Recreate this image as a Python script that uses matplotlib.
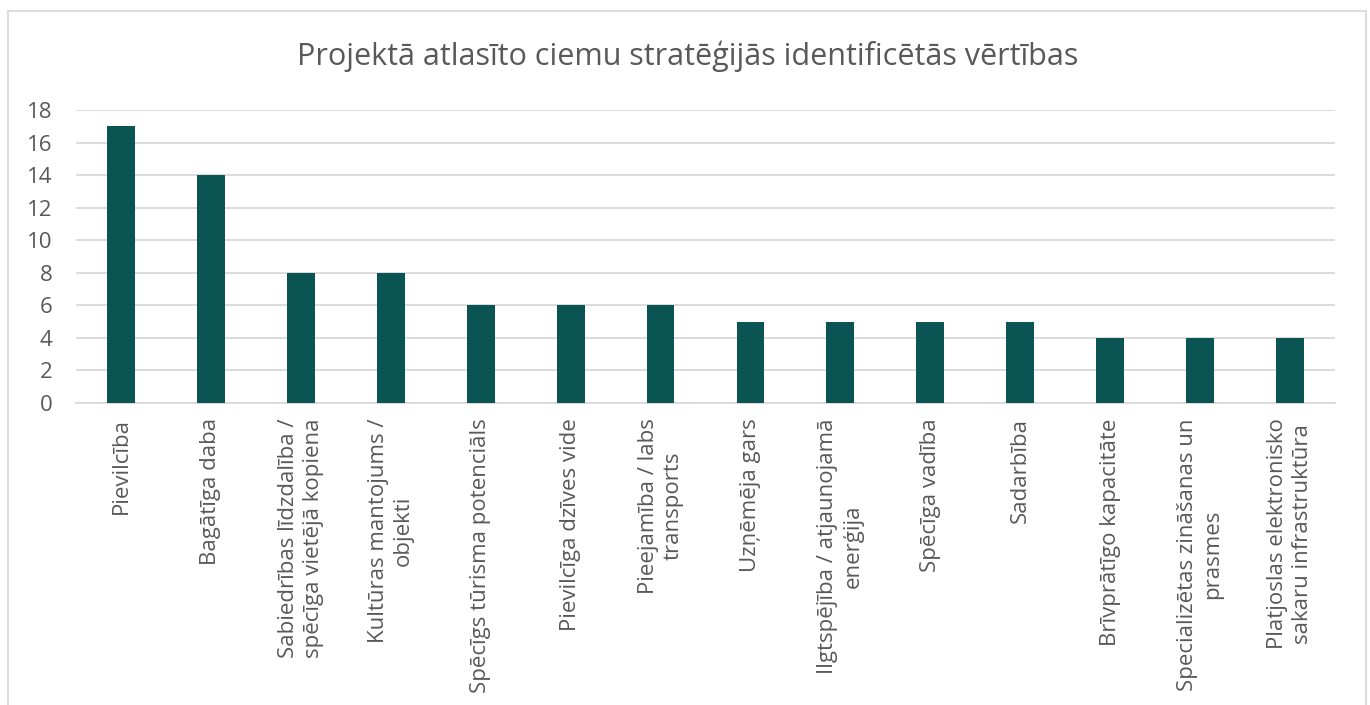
import matplotlib
matplotlib.use("Agg")
import matplotlib.pyplot as plt
from matplotlib.patches import Rectangle

categories = [
    "Pievilcība",
    "Bagātīga daba",
    "Sabiedrības līdzdalība /\nspēcīga vietējā kopiena",
    "Kultūras mantojums /\nobjekti",
    "Spēcīgs tūrisma potenciāls",
    "Pievilcīga dzīves vide",
    "Pieejamība / labs\ntransports",
    "Uzņēmēja gars",
    "Ilgtspējība / atjaunojamā\nenerģija",
    "Spēcīga vadība",
    "Sadarbība",
    "Brīvprātīgo kapacitāte",
    "Specializētas zināšanas un\nprasmes",
    "Platjoslas elektronisko\nsakaru infrastruktūra",
]
values = [17, 14, 8, 8, 6, 6, 6, 5, 5, 5, 5, 4, 4, 4]
yticks = [0, 2, 4, 6, 8, 10, 12, 14, 16, 18]
title = "Projektā atlasīto ciemu stratēģijās identificētās vērtības"

plt.rcParams['font.family'] = ['Open Sans', 'DejaVu Sans']
TXT = "#595959"
GRID = "#D9D9D9"
BAR = "#0A5454"

W, H = 1370, 705
fig = plt.figure(figsize=(W / 100, H / 100), dpi=100)
ax = fig.add_axes([76 / W, 1 - 403 / H, (1335 - 76) / W, (403 - 110) / H])

x = list(range(len(categories)))
ax.bar(x, values, width=0.31, color=BAR, zorder=3)
ax.set_xlim(-0.5, len(categories) - 0.5)
ax.set_ylim(0, 18)
ax.set_yticks(yticks)
ax.set_yticklabels([str(v) for v in yticks], fontsize=16, color=TXT)
ax.yaxis.grid(True, color=GRID, linewidth=1.3, zorder=0)
ax.set_axisbelow(True)
for s in ["top", "right", "left"]:
    ax.spines[s].set_visible(False)
ax.spines["bottom"].set_color(GRID)
ax.spines["bottom"].set_linewidth(1.3)
ax.tick_params(axis="both", length=0)
ax.tick_params(axis="y", pad=17)
ax.tick_params(axis="x", pad=11)
ax.set_xticks(x)
ax.set_xticklabels(categories, rotation=90, fontsize=16, color=TXT,
                   ha="center", va="top", multialignment="center",
                   linespacing=1.25)

fig.text(688 / W, 1 - 56 / H, title, fontsize=22, color=TXT,
         ha="center", va="center")

fig.patches.append(Rectangle((7.5, -10), 1366 - 7.5, H - 11 + 10,
                             transform=None, fill=False,
                             edgecolor=GRID, linewidth=1.3))

fig.savefig("out.png", dpi=100, facecolor="white")
